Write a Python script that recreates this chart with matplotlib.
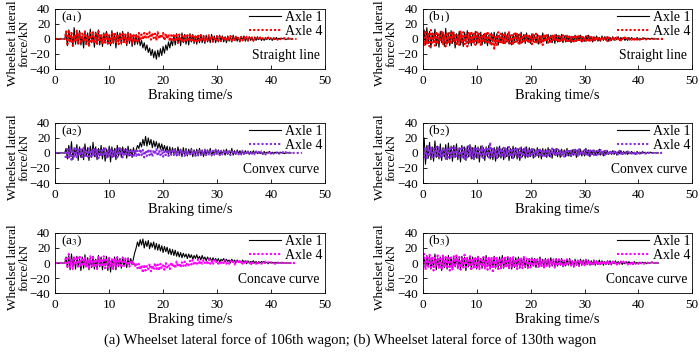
import numpy as np
import matplotlib
matplotlib.use('Agg')
import matplotlib.pyplot as plt

plt.rcParams['font.family'] = ['Liberation Serif', 'DejaVu Serif']
plt.rcParams['mathtext.fontset'] = 'stix'

dt = 0.25

# (a) 106th wagon - straight line
a1_axle1 = [0, 0, 0, 0, 0, 0, 0, 0,
            8, -9, 12, -4, 6, -10, 15, -7, 9, -5, 11, -8, 4, -12, 10, -6, 8, -9, 13, -5,
            7, -11, 9, -4, 12, -8, 6, -10, 8, -5, 10, -7, 5, -9, 11, -6, 7, -12, 9, -4,
            8, -7, 10, -5, 6, -9, 9, -6, 7, -10, 5, -8, 6, -7, 3, -9,
            -2, -12, -5, -15, -8, -18, -12, -22, -14, -25, -16, -27, -15, -24, -13, -22, -10, -19, -8, -15, -4, -12, -2, -9,
            5, -8, 7, -6, 4, -9, 8, -5, 6, -7, 5, -8, 7, -4, 6, -6, 4, -7, 5, -5,
            6, -5, 4, -6, 5, -4, 3, -5, 6, -3, 4, -5, 3, -4, 5, -3, 4, -4, 3, -5,
            4, -3, 3, -4, 5, -2, 3, -3, 2, -4, 3, -2, 4, -3, 2, -3, 3, -2, 2, -3,
            2, -2, 3, -1, 2, -2, 1, -2, 2, -1, 2, -1, 1, -2, 1, -1, 2, -1, 1, -1,
            1, 0, 1, -1, 0, 0, 0, 0]
a1_axle4 = [0, 0, 0, 0, 0, 0, 0, 0,
            10, -7, 12, -5, 8, -9, 6, -4, 11, -8, 9, -6, 7, -3, 10, -7, 5, -9, 8, -5,
            9, -6, 7, -8, 10, -4, 6, -7, 8, -5, 9, -6, 5, -8, 7, -4, 9, -6, 6, -7,
            8, -5, 7, -4, 6, -6, 8, -3, 5, -6, 7, -4, 6, -5, 8, -2,
            6, -1, 8, 0, 7, 2, 9, -1, 8, 1, 7, -2, 9, 0, 6, 1, 8, -2, 7, 0, 6, -3, 5, -1,
            7, -4, 5, -5, 6, -3, 4, -5, 6, -4, 5, -3, 7, -4, 4, -5, 5, -3, 6, -4,
            5, -3, 4, -4, 3, -3, 5, -2, 4, -4, 3, -3, 4, -2, 3, -3, 4, -2, 3, -3,
            3, -2, 4, -2, 2, -3, 3, -1, 2, -2, 3, -2, 2, -1, 3, -2, 2, -1, 2, -2,
            2, -1, 1, -1, 2, -1, 1, 0, 1, -1, 2, 0, 1, -1, 1, 0, 1, -1, 1, 0,
            1, 0, 1, 0, 0, 1, 0, 0, 0, 0, 0, 0]

# (a) 106th wagon - convex curve
a2_axle1 = [0, 0, 0, 0, 0, 0, 0, 0,
            6, -8, 10, -5, 15, -9, 7, -3, 11, -10, 8, -6, 5, -9, 12, -4, 7, -10, 9, -6,
            14, -5, 8, -9, 6, -4, 10, -8, 7, -11, 5, -6, 9, -12, 8, -5, 6, -9, 10, -4,
            7, -6, 8, -3, 6, -7, 9, -4, 5, -6, 7, -2,
            4, 10, 6, 14, 8, 18, 10, 22, 9, 20, 11, 18, 7, 16, 8, 15, 6, 13, 5, 12, 3, 10, 2, 9,
            -2, 8, -3, 7, -1, 6, -4, 8, -2, 5, -5, 7, -3, 6, -4, 5, -2, 6, -5, 4,
            -3, 5, -4, 6, -2, 4, -5, 5, -3, 4, -2, 6, -4, 3, -3, 5, -2, 4, -3, 3,
            -2, 4, -3, 5, -2, 3, -1, 6, -3, 3, -2, 4, -1, 3, -2, 2, -2, 3, -1, 2,
            -2, 2, -1, 3, -1, 2, -1, 2, -1, 1, -2, 2, -1, 1, 0, 2, -1, 1, -1, 1,
            0, 1, -1, 1, 0, 0, -1, 0, 0, 0, 0, 0]
a2_axle4 = [0, 0, 0, 0, 0, 0, 0, 0,
            -8, 5, -6, 7, -9, 4, -5, 8, -7, 6, -4, 5, -8, 7, -6, 4, -5, 6, -7, 5,
            -4, 7, -6, 5, -7, 4, -5, 6, -4, 8, -6, 3, -5, 6, -7, 4, -4, 5, -6, 6,
            -3, 5, -6, 4, -4, 6, -5, 3, -3, 5, -6, 4, -4, 3, -5, 5, -3, 4, -6, 3,
            -4, 5, -3, 3, -5, 4, -2, 5, -4, 3, -3, 4, -5, 2, -3, 4, -4, 3, -2, 5,
            -3, 4, -4, 2, -3, 5, -2, 3, -4, 3, -3, 2, -2, 4, -3, 3, -4, 2, -2, 3,
            -3, 2, -2, 4, -3, 3, -2, 2, -3, 3, -2, 4, -2, 2, -3, 3, -2, 2, -1, 3,
            -2, 2, -3, 2, -1, 3, -2, 2, -2, 1, -2, 3, -1, 2, -2, 2, -1, 2, -1, 1,
            -2, 2, -1, 1, -1, 2, -1, 1, -2, 1, 0, 2, -1, 1, -1, 1, 0, 1, -1, 1,
            0, 1, -1, 1, 0, 1, 0, 0, 0, 0, 0, 0, 0, 0, 0, 0]

# (a) 106th wagon - concave curve
a3_axle1 = [0, 0, 0, 0, 0, 0, 0, 0,
            8, -6, 10, -9, 12, -5, 7, -8, 9, -4, 6, -10, 8, -7, 11, -5, 7, -9, 6, -6,
            9, -8, 5, -7, 10, -5, 8, -9, 6, -4, 9, -10, 7, -12, 5, -6, 8, -9, 7, -5,
            6, -7, 8, -4, 5, -6, 7, -3, 6, -2,
            6, 14, 20, 28, 22, 31, 24, 32, 20, 29, 22, 30, 19, 27, 21, 28, 18, 26,
            17, 25, 16, 23, 14, 22, 15, 21, 12, 19, 11, 18, 10, 17, 9, 15,
            8, 14, 7, 13, 8, 12, 6, 12, 7, 11, 5, 10, 6, 11, 5, 9, 4, 10, 5, 8,
            3, 8, 4, 7, 2, 7, 3, 6, 2, 6, 1, 5, 3, 6, 1, 5, 2, 4, 0, 5,
            1, 4, 0, 4, 1, 3, 0, 4, 1, 3, -1, 3, 0, 2, 1, 3, 0, 2, -1, 2,
            0, 2, 1, 2, 0, 1, -1, 1, 0, 1, 0, 1, 0, 1, 0, 0, 1, 0, 0, 0, 0, 0, 0, 0]
a3_axle4 = [0, 0, 0, 0, 0, 0, 0, 0,
            8, -5, 12, -6, 4, -8, 9, -3, 6, -7, 10, -5, 7, -4, 8, -6, 5, -8, 9, -4,
            7, -6, 5, -8, 8, -3, 6, -5, 9, -7, 4, -6, 7, -4, 5, -8, 6, -5, 8, -3,
            5, -6, 7, -4, 6, -3, 5, -5, 4, -2,
            2, -5, 0, -7, -1, -9, -3, -13, -2, -10, -4, -8, -1, -11, -3, -9, 0, -8, -2, -10, -1, -7,
            -3, -9, 0, -6, -2, -8, 1, -5, -1, -7, 2, -5, 0, -6, 1, -4, 2, -5, 0, -3,
            3, -2, 4, -3, 2, -1, 5, -2, 3, -1, 4, 0, 3, -2, 5, -1, 3, -2, 4, 0,
            3, -1, 2, -2, 3, 0, 4, -1, 2, -1, 3, 0, 2, -2, 3, 0, 2, -1, 3, -1,
            2, -1, 2, 0, 1, -3, 2, 0, 1, -1, 2, 0, 1, -1, 1, 0, 2, 0, 1, 0,
            1, 0, 1, -1, 1, 0, 1, 0, 0, 1, 0, 0, 0, 0, 0, 0, 0, 0, 0, 0]

# (b) 130th wagon - straight line
b1_axle1 = [0, 12, -8, 15, -6, 10, -12, 8, -4, 13, -9, 6, -11, 10, -5, 9, -10, 14, -7, 8,
            -9, 11, -6, 9, -12, 7, -5, 10, -8, 6, -10, 9, -4, 11, -7, 8, -9, 6, -6, 10,
            -7, 8, -5, 9, -8, 6, -6, 7, -9, 5, -7, 8, -4, 9, -6, 7, -8, 5, -5, 8,
            -6, 9, -4, 7, -7, 5, -8, 6, -5, 8, -4, 6, -7, 9, -5, 6, -6, 8, -4, 5,
            -6, 7, -4, 5, -5, 6, -7, 4, -5, 8, -3, 5, -6, 6, -4, 5, -5, 4, -6, 6,
            -4, 5, -3, 6, -5, 4, -4, 5, -3, 4, -5, 3, -4, 5, -3, 4, -2, 5, -4, 3,
            -3, 4, -2, 5, -3, 3, -4, 3, -2, 4, -3, 2, -3, 4, -2, 3, -2, 3, -3, 2,
            -2, 3, -2, 2, -1, 3, -2, 2, -1, 2, -2, 1, -2, 2, -1, 2, -1, 1, -1, 2,
            -1, 1, -1, 1, 0, 1, -1, 1, 0, 0, 1, 0, 0, 0, 0, 0]
b1_axle4 = [0, -8, 11, -6, 9, -10, 12, -5, 7, -9, 10, -7, 8, -4, 11, -8, 6, -10, 9, -6,
            8, -7, 10, -5, 7, -9, 6, -8, 11, -6, 9, -7, 5, -10, 8, -6, 10, -4, 7, -8,
            9, -6, 7, -8, 6, -5, 8, -7, 10, -4, 6, -9, 7, -13, 5, -8, 9, -6, 7, -5,
            8, -7, 6, -5, 9, -6, 5, -8, 7, -4, 8, -6, 6, -7, 5, -5, 7, -4, 6, -6,
            5, -7, 6, -4, 7, -5, 4, -6, 5, -8, 6, -4, 5, -5, 4, -6, 6, -3, 5, -4,
            4, -5, 3, -4, 5, -3, 4, -5, 3, -4, 4, -3, 5, -3, 3, -4, 4, -2, 3, -4,
            3, -3, 4, -2, 3, -3, 2, -4, 3, -2, 3, -3, 2, -2, 3, -2, 2, -3, 2, -2,
            2, -2, 3, -1, 2, -2, 1, -2, 2, -1, 2, -1, 1, -2, 1, -1, 2, -1, 1, -1,
            1, -1, 1, 0, 1, -1, 0, 1, 0, 0, 1, 0, 0, 0, 0, 0, 0, 0, 0, 0]

# (b) 130th wagon - convex curve
b2_axle1 = [0, 20, -15, 10, -7, 14, -9, 8, -11, 16, -6, 9, -8, 12, -10, 7, -5, 11, -9, 13,
            -8, 9, -11, 10, -6, 12, -9, 7, -12, 10, -7, 8, -10, 9, -5, 11, -8, 7, -9, 10,
            -7, 8, -12, 9, -6, 7, -10, 8, -5, 10, -8, 6, -9, 7, -11, 8, -6, 9, -7, 6,
            -9, 7, -5, 8, -10, 6, -7, 9, -6, 7, -8, 5, -10, 8, -5, 6, -7, 8, -6, 7,
            -5, 6, -7, 5, -4, 7, -6, 5, -8, 6, -4, 5, -6, 7, -5, 4, -7, 5, -3, 6,
            -5, 4, -6, 5, -3, 4, -5, 6, -4, 3, -5, 4, -3, 5, -6, 4, -3, 5, -4, 3,
            -4, 6, -3, 4, -5, 3, -2, 4, -3, 3, -2, 5, -3, 2, -4, 3, -2, 3, -2, 2,
            -2, 3, -2, 2, -3, 2, -1, 3, -2, 2, -1, 2, -2, 1, -1, 2, -1, 1, -2, 2,
            -1, 1, -1, 2, 0, 1, -1, 1, 0, 1, 0, 0, 0, 0, 0, 0]
b2_axle4 = [0, -6, 8, -7, 9, -5, 7, -8, 6, -4, 8, -6, 9, -7, 5, -5, 7, -8, 6, -6,
            8, -5, 7, -7, 9, -4, 6, -6, 8, -5, 7, -8, 5, -6, 9, -4, 7, -7, 6, -5,
            8, -6, 7, -5, 9, -7, 6, -4, 8, -6, 14, -5, 7, -6, 5, -7, 8, -4, 6, -5,
            7, -6, 5, -4, 8, -5, 6, -7, 5, -4, 7, -5, 6, -6, 4, -5, 7, -4, 5, -6,
            6, -4, 5, -5, 4, -3, 6, -5, 5, -4, 4, -6, 5, -3, 4, -5, 6, -3, 4, -4,
            5, -3, 4, -4, 3, -5, 4, -3, 5, -3, 3, -4, 4, -2, 3, -4, 5, -3, 3, -3,
            4, -2, 3, -3, 5, -2, 3, -3, 2, -3, 3, -2, 4, -2, 2, -3, 3, -1, 2, -2,
            3, -2, 2, -1, 2, -2, 3, -1, 2, -1, 1, -2, 2, -1, 2, -1, 1, -1, 2, -1,
            1, -1, 1, 0, 1, -1, 1, 0, 0, 1, 0, 0, 0, 0, 0, 0, 0, 0, 0, 0]

# (b) 130th wagon - concave curve
b3_axle1 = [0, 8, -7, 10, -5, 9, -8, 6, -6, 12, -9, 7, -5, 8, -10, 9, -6, 7, -8, 10,
            -6, 8, -9, 7, -5, 10, -7, 6, -8, 9, -6, 8, -10, 7, -5, 9, -7, 8, -6, 7,
            -8, 9, -5, 6, -7, 8, -6, 10, -5, 7, -8, 6, -6, 9, -7, 5, -6, 8, -5, 10,
            -7, 6, -5, 8, -6, 7, -8, 5, -6, 7, -5, 8, -7, 6, -4, 7, -6, 5, -7, 6,
            -5, 7, -4, 6, -6, 5, -5, 8, -4, 5, -6, 6, -3, 5, -5, 7, -4, 4, -5, 6,
            -4, 5, -3, 6, -5, 4, -4, 5, -3, 6, -4, 3, -5, 5, -3, 4, -4, 5, -3, 4,
            -3, 5, -2, 4, -3, 3, -2, 4, -3, 3, -2, 4, -2, 3, -3, 2, -2, 3, -2, 3,
            -2, 2, -1, 3, -2, 2, -1, 2, -2, 1, -1, 2, -1, 2, -1, 1, -2, 2, -1, 1,
            -1, 1, -1, 1, 0, 1, -1, 1, 0, 0, 1, 0, 0, 0, 0, 0]
b3_axle4 = [0, 12, -9, 8, -7, 11, -6, 9, -10, 7, -5, 10, -8, 6, -9, 11, -6, 8, -7, 9,
            -10, 7, -8, 9, -5, 10, -7, 8, -9, 6, -6, 11, -8, 7, -5, 9, -10, 6, -7, 8,
            -6, 9, -8, 7, -5, 8, -7, 6, -9, 7, -6, 8, -13, 9, -5, 7, -8, 6, -7, 8,
            -5, 7, -6, 8, -7, 6, -5, 9, -6, 5, -8, 7, -5, 6, -7, 8, -4, 6, -6, 5,
            -6, 7, -5, 6, -4, 5, -7, 6, -5, 4, -6, 5, -4, 6, -5, 4, -3, 5, -6, 4,
            -4, 5, -3, 4, -5, 3, -4, 5, -3, 4, -3, 3, -5, 4, -3, 3, -4, 4, -2, 3,
            -3, 4, -2, 3, -3, 2, -4, 3, -2, 3, -2, 2, -3, 3, -2, 2, -1, 3, -2, 2,
            -2, 2, -1, 2, -2, 1, -1, 2, -1, 2, -1, 1, -2, 1, -1, 2, -1, 1, -1, 1,
            -1, 1, 0, 1, -1, 0, 1, 0, 0, 0, 1, 0, 0, 0, 0, 0]

panels = [
    ('(a$_1$)', 'Straight line', a1_axle1, a1_axle4, 'red'),
    ('(b$_1$)', 'Straight line', b1_axle1, b1_axle4, 'red'),
    ('(a$_2$)', 'Convex curve', a2_axle1, a2_axle4, '#8a2be2'),
    ('(b$_2$)', 'Convex curve', b2_axle1, b2_axle4, '#8a2be2'),
    ('(a$_3$)', 'Concave curve', a3_axle1, a3_axle4, 'magenta'),
    ('(b$_3$)', 'Concave curve', b3_axle1, b3_axle4, 'magenta'),
]

fig = plt.figure(figsize=(7, 3.54), dpi=100)

lefts = [0.079, 0.604]
bottoms = [0.805, 0.483, 0.172]
w, h = 0.385, 0.17

for i, (tag, cond, ax1, ax4, col) in enumerate(panels):
    row, c = divmod(i, 2)
    ax = fig.add_axes([lefts[c], bottoms[row], w, h])
    t1 = np.arange(len(ax1)) * dt
    t4 = np.arange(len(ax4)) * dt
    ax.plot(t1, ax1, color='black', lw=0.8, label='Axle 1')
    ax.plot(t4, ax4, color=col, lw=1.5, ls=(0, (1, 1)), label='Axle 4')
    ax.set_xlim(0, 50)
    ax.set_ylim(-40, 40)
    ax.set_xticks([0, 10, 20, 30, 40, 50])
    ax.set_yticks([-40, -20, 0, 20, 40])
    ax.tick_params(direction='in', length=3, width=0.6, labelsize=9.5)
    ax.tick_params(axis='x', pad=4)
    ax.tick_params(axis='y', pad=3.5)
    for s in ax.spines.values():
        s.set_linewidth(0.6)
    ax.set_xlabel('Braking time/s', fontsize=10.3, labelpad=2)
    ax.set_ylabel('Wheelset lateral\nforce/kN', fontsize=9.5, linespacing=0.95)
    ax.yaxis.set_label_coords(-0.092, 0.43)
    ax.text(0.02, 0.86, tag, transform=ax.transAxes, fontsize=9.5, va='center')
    ax.text(0.98, 0.22, cond, transform=ax.transAxes, fontsize=9.8, ha='right', va='center')
    ax.legend(loc='upper right', frameon=False, fontsize=10, handlelength=2.3,
              handletextpad=0.3, labelspacing=0.05, borderaxespad=0.1, borderpad=0.05)

fig.text(0.5, 0.04, '(a) Wheelset lateral force of 106th wagon; (b) Wheelset lateral force of 130th wagon',
         ha='center', va='center', fontsize=10.5)

fig.savefig('out.png', dpi=100)
